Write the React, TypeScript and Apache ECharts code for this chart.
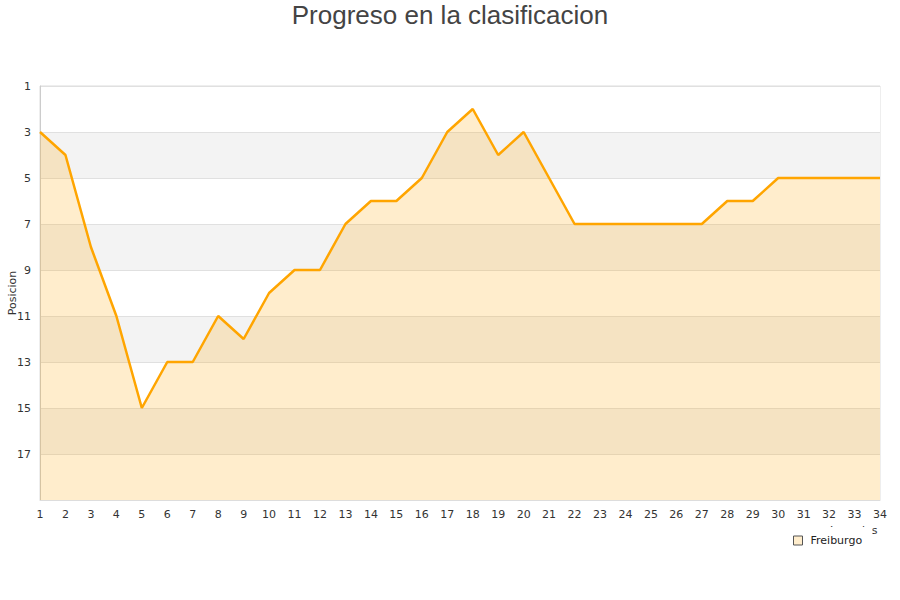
import React, { useEffect, useRef } from "react";
import * as echarts from "echarts";

const jornadas = [
  "1", "2", "3", "4", "5", "6", "7", "8", "9", "10", "11", "12", "13", "14", "15", "16", "17",
  "18", "19", "20", "21", "22", "23", "24", "25", "26", "27", "28", "29", "30", "31", "32", "33", "34",
];
const freiburgo = [
  3, 4, 8, 11, 15, 13, 13, 11, 12, 10, 9, 9, 7, 6, 6, 5, 3,
  2, 4, 3, 5, 7, 7, 7, 7, 7, 7, 6, 6, 5, 5, 5, 5, 5,
];
const seriesName = "Freiburgo";
const titleText = "Progreso en la clasificacion";
const yName = "Posicion";
const xName = "Jornadas";

export default function App() {
  const ref = useRef<HTMLDivElement>(null);
  useEffect(() => {
    if (!ref.current) return;
    const chart = echarts.init(ref.current, null, { renderer: "svg" });
    const font = "DejaVu Sans";
    chart.setOption({
      animation: false,
      backgroundColor: "#ffffff",
      grid: {
        left: 40,
        right: 20,
        top: 86,
        bottom: 100,
        outerBoundsMode: "none",
        containLabel: false,
        show: true,
        borderColor: "#dddddd",
        borderWidth: 1,
        backgroundColor: "transparent",
      },
      graphic: [
        {
          type: "text",
          x: 450,
          y: 15,
          style: {
            text: titleText,
            fontFamily: "Liberation Sans",
            fontSize: 26,
            fill: "#444444",
            align: "center",
            verticalAlign: "middle",
          },
        },
        {
          type: "text",
          x: 12,
          y: 293,
          rotation: Math.PI / 2,
          style: {
            text: yName,
            fontFamily: font,
            fontSize: 11,
            fill: "#333333",
            align: "center",
            verticalAlign: "middle",
          },
        },
        {
          type: "text",
          left: 830,
          top: 525,
          z: 0,
          style: {
            text: xName,
            fontFamily: font,
            fontSize: 11,
            fill: "#333333",
          },
        },
      ],
      legend: {
        left: 785,
        top: 527,
        z: 10,
        padding: [8, 10, 8, 8],
        backgroundColor: "#ffffff",
        itemWidth: 9,
        itemHeight: 9,
        icon: "rect",
        data: [
          {
            name: seriesName,
            itemStyle: { color: "#ffedcc", borderColor: "#555555", borderWidth: 1 },
          },
        ],
        textStyle: {
          fontFamily: font,
          fontSize: 11,
          color: "#222222",
          padding: [0, 0, 0, 3],
        },
      },
      xAxis: {
        type: "category",
        data: jornadas,
        boundaryGap: false,
        axisLine: { show: true, lineStyle: { color: "#dddddd" } },
        axisTick: { show: false },
        axisLabel: {
          interval: 0,
          fontFamily: font,
          fontSize: 11,
          color: "#333333",
          margin: 9,
        },
        splitLine: { show: false },
      },
      yAxis: {
        type: "value",
        inverse: true,
        min: 1,
        max: 19,
        interval: 2,
        axisLine: { show: true, lineStyle: { color: "#cccccc" } },
        axisTick: { show: false },
        axisLabel: {
          fontFamily: font,
          fontSize: 11,
          color: "#333333",
          margin: 9,
          showMaxLabel: false,
        },
        splitLine: { show: true, lineStyle: { color: "#e0e0e0" } },
        splitArea: { show: true, areaStyle: { color: ["#ffffff", "#f3f3f3"] } },
      },
      series: [
        {
          name: seriesName,
          type: "line",
          data: freiburgo,
          showSymbol: false,
          symbol: "none",
          lineStyle: { color: "#ffa500", width: 2.5 },
          itemStyle: { color: "#ffa500" },
          areaStyle: { color: "#ffa500", opacity: 0.2, origin: "end" },
        },
      ],
    });
    return () => chart.dispose();
  }, []);
  return (
    <div
      ref={ref}
      style={{ position: "absolute", left: 0, top: 0, width: 900, height: 600 }}
    />
  );
}
